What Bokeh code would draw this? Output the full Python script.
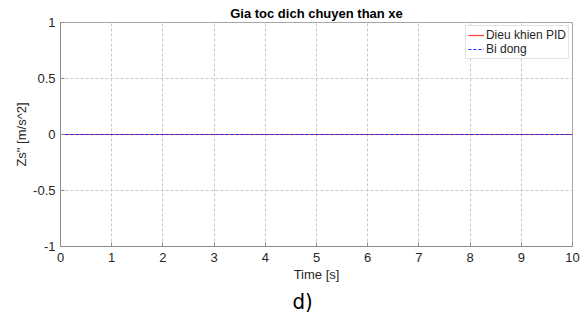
from bokeh.plotting import figure
from bokeh.models import Range1d, Legend, LegendItem, FixedTicker, Title
from bokeh.embed import file_html
from bokeh.resources import INLINE

# Data
time_s = [0, 10]
pid_control = [0, 0]
passive = [0, 0]
x_ticks = [0, 1, 2, 3, 4, 5, 6, 7, 8, 9, 10]
y_ticks = [-1, -0.5, 0, 0.5, 1]
title_text = "Gia toc dich chuyen than xe"
x_label = "Time [s]"
y_label = 'Zs" [m/s^2]'
series_names = ["Dieu khien PID", "Bi dong"]
panel_tag = "d)"

FONT = "Liberation Sans"
TXT = "#262626"

p = figure(width=587, height=324, output_backend="svg", toolbar_location=None,
           x_range=Range1d(0, 10), y_range=Range1d(-1, 1),
           min_border_left=60, min_border_right=15, min_border_top=22, min_border_bottom=78)
p.title.text = title_text
p.title.align = "center"
p.title.text_font = FONT
p.title.text_font_size = "13px"
p.title.text_font_style = "bold"
p.title.text_color = "black"
p.title.standoff = 3
p.background_fill_color = "white"
p.border_fill_color = "white"
p.outline_line_color = "#a6a6a6"
p.outline_line_width = 1

for ax in (p.xaxis[0], p.yaxis[0]):
    ax.axis_line_color = "#8c8c8c"
    ax.major_tick_line_color = "#8c8c8c"
    ax.major_tick_in = 4
    ax.major_tick_out = 0
    ax.minor_tick_line_color = None
    ax.major_label_text_font = FONT
    ax.major_label_text_font_size = "13px"
    ax.major_label_text_color = TXT
    ax.axis_label_text_font = FONT
    ax.axis_label_text_font_size = "13px"
    ax.axis_label_text_font_style = "normal"
    ax.axis_label_text_color = TXT

p.xaxis.ticker = FixedTicker(ticks=x_ticks)
p.yaxis.ticker = FixedTicker(ticks=y_ticks)
p.xaxis.major_label_overrides = {t: str(t) for t in x_ticks}
p.yaxis.major_label_overrides = {-1: "-1", -0.5: "-0.5", 0: "0", 0.5: "0.5", 1: "1"}
p.xaxis.major_label_standoff = 6
p.yaxis.major_label_standoff = 5
p.xaxis.axis_label = x_label
p.yaxis.axis_label = y_label
p.xaxis.axis_label_standoff = 2
p.yaxis.axis_label_standoff = 1

p.grid.grid_line_color = "#c8c8c8"
p.grid.grid_line_dash = "3 2"
p.grid.grid_line_width = 1

r1 = p.line(time_s, pid_control, line_color="#ff3b3b", line_width=1.2)
r2 = p.line(time_s, passive, line_color="#2020ff", line_width=1.2, line_dash="3 2")

legend = Legend(items=[LegendItem(label=series_names[0], renderers=[r1]),
                       LegendItem(label=series_names[1], renderers=[r2])],
                location="top_right")
legend.label_text_font = FONT
legend.label_text_font_size = "12px"
legend.label_text_color = TXT
legend.border_line_color = "#c8c8c8"
legend.background_fill_color = "white"
legend.background_fill_alpha = 1
legend.margin = 3
legend.padding = 2
legend.spacing = 0
legend.glyph_width = 16
legend.glyph_height = 14
legend.label_height = 14
legend.label_standoff = 2
p.add_layout(legend, "center")

tag = Title(text=panel_tag, align="left", offset=232,
            text_font="DejaVu Sans Condensed, Liberation Sans",
            text_font_size="22px", text_font_style="normal", text_color="black", standoff=4)
p.add_layout(tag, "below")

open("out.html", "w").write(file_html(p, INLINE))
